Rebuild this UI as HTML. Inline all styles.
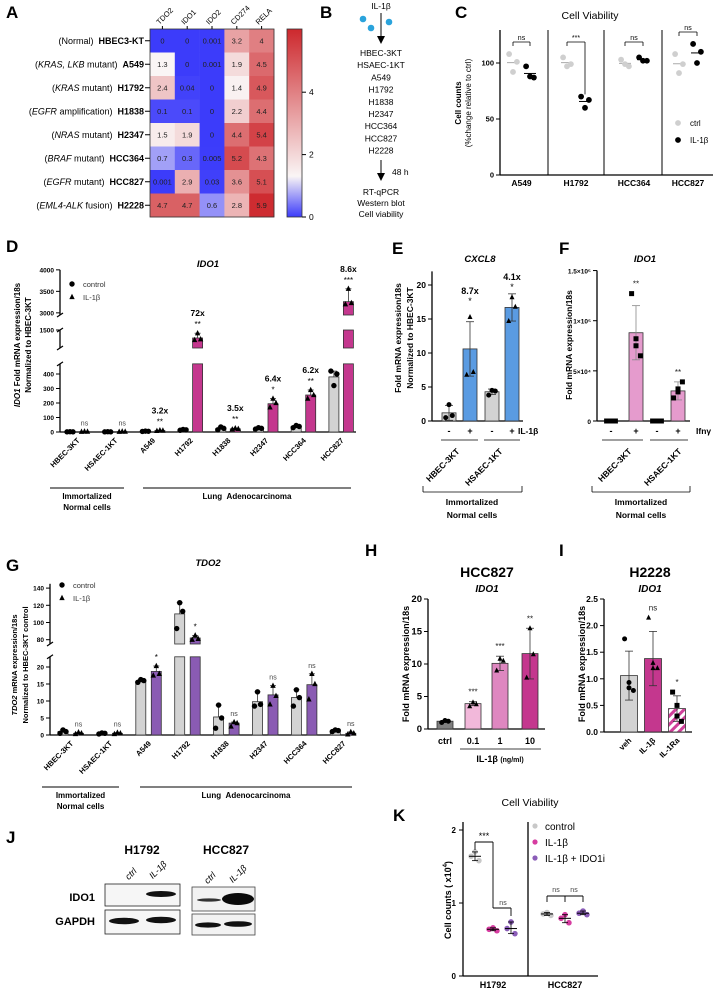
<!DOCTYPE html>
<html><head><meta charset="utf-8"><style>
html,body{margin:0;padding:0;background:#fff}
svg{display:block;font-family:"Liberation Sans",Arial,sans-serif}
</style></head><body>
<svg id="fig" width="713" height="991" viewBox="0 0 713 991" xmlns="http://www.w3.org/2000/svg">
<defs>
<linearGradient id="cbar" x1="0" y1="0" x2="0" y2="1">
<stop offset="0" stop-color="rgb(205,40,45)"/><stop offset="0.783" stop-color="rgb(250,245,245)"/><stop offset="1" stop-color="rgb(60,60,250)"/>
</linearGradient>
<pattern id="stripe" width="6" height="6" patternUnits="userSpaceOnUse" patternTransform="rotate(45)">
<rect width="6" height="6" fill="#fff"/><rect width="3" height="6" fill="#d0409a"/>
</pattern>
</defs>
</svg>
<script>
// ---------- data ----------
const heatRows=['HBEC3-KT','A549','H1792','H1838','H2347','HCC364','HCC827','H2228'];
const heatNotes=['(Normal)','(<tspan font-style="italic">KRAS, LKB</tspan> mutant)','(<tspan font-style="italic">KRAS</tspan> mutant)','(<tspan font-style="italic">EGFR</tspan> amplification)','(<tspan font-style="italic">NRAS</tspan> mutant)','(<tspan font-style="italic">BRAF</tspan> mutant)','(<tspan font-style="italic">EGFR</tspan> mutant)','(<tspan font-style="italic">EML4-ALK</tspan> fusion)'];
const heatCols=['TDO2','IDO1','IDO2','CD274','RELA'];
const heatVals=[[0,0,0.001,3.2,4],[1.3,0,0.001,1.9,4.5],[2.4,0.04,0,1.4,4.9],[0.1,0.1,0,2.2,4.4],[1.5,1.9,0,4.4,5.4],[0.7,0.3,0.005,5.2,4.3],[0.001,2.9,0.03,3.6,5.1],[4.7,4.7,0.6,2.8,5.9]];
const heatTicks=[0,2,4];
const bLines=['HBEC-3KT','HSAEC-1KT','A549','H1792','H1838','H2347','HCC364','HCC827','H2228'];
const cCats=['A549','H1792','HCC364','HCC827'];
const cCtrlPts=[[108,101,92],[105,99,97],[103,97,99],[108,99,91]];
const cILPts=[[97,87,88],[70,67,60],[105,102,102],[117,110,100]];
const cSig=['ns','***','ns','ns'];
const cTicks=[0,50,100];
const dCats=['HBEC-3KT','HSAEC-1KT','A549','H1792','H1838','H2347','HCC364','HCC827'];
const dCtrl=[1,1,5,15,25,25,38,380];
const dIL=[3,3,10,1300,22,195,255,3260];
const dILsd=[1,1,3,80,8,30,30,300];
const dCtrlPts=[[1,1,2],[1,1,2],[4,5,6],[12,15,18],[15,25,35],[20,25,30],[30,38,45],[420,400,320]];
const dILPts=[[2,3,4],[2,3,4],[8,10,12],[1250,1270,1420],[18,22,26],[170,200,230],[230,255,290],[3200,3230,3560]];
const dFold=['','','3.2x','72x','3.5x','6.4x','6.2x','8.6x'];
const dSig=['ns','ns','**','**','**','*','**','***'];
const dTicks=[0,100,200,300,400,1500,3000,3500,4000];
const gCtrl=[1,0.5,15.8,110,5.3,9.8,11,1.3];
const gIL=[0.5,0.5,18.7,82,3.5,11.8,14.8,0.5];
const gCtrlPts=[[0.5,1,1.5],[0.3,0.5,0.6],[15.5,16,16.3],[93,113,123],[2,5,8.8],[8.5,9,12.7],[8.5,11,13.3],[1,1.3,1.5]];
const gILPts=[[0.3,0.5,0.8],[0.3,0.5,0.7],[17.5,18,20.3],[80,81,85],[2.5,3.5,3.8],[9,11.5,14.5],[10.5,15,18],[0.2,0.5,0.9]];
const gSig=['ns','ns','*','*','ns','ns','ns','ns'];
const gTicks=[0,5,10,15,20,80,100,120,140];
const eVals=[1.2,10.6,4.3,16.7];
const eSd=[1.1,4,0.4,2];
const ePts=[[0.5,0.8,2.4],[6.8,7.2,15.3],[3.8,4.4,4.5],[14.7,16.8,18.2]];
const eTicks=[0,5,10,15,20];
const fVals=[0,88000,0,30000];
const fSd=[0,27000,0,9000];
const fPts=[[0,0,0,0],[127000,82000,75000,65000],[0,0,0,0],[23000,29000,32000,39000]];
const fTicks=[0,50000,100000,150000];
const fTickLabels=['0','5×10⁴','1×10⁵','1.5×10⁵'];
const hCats=['ctrl','0.1','1','10'];
const hVals=[1.2,3.9,10.1,11.6];
const hSd=[0.1,0.3,1.1,3.9];
const hPts=[[1.0,1.2,1.3],[3.5,3.8,4.1],[9,10.5,10.8],[7.9,11.5,15.5]];
const hSig=['','***','***','**'];
const hTicks=[0,5,10,15,20];
const iCats=['veh','IL-1β','IL-1Ra'];
const iVals=[1.06,1.38,0.44];
const iSd=[0.46,0.51,0.24];
const iPts=[[1.75,0.93,0.83,0.78],[2.15,1.3,1.2,1.2],[0.75,0.5,0.3,0.2]];
const iSig=['','ns','*'];
const iTicks=[0,0.5,1,1.5,2,2.5];
const kCats=['H1792','HCC827'];
const kCtrl=[[1.64,1.58,1.70],[0.85,0.83,0.87]];
const kIL=[[0.64,0.62,0.66],[0.79,0.73,0.84]];
const kIDO=[[0.65,0.58,0.74],[0.86,0.84,0.89]];
const kTicks=[0,1,2];

// ---------- helpers ----------
const NS='http://www.w3.org/2000/svg';
const svg=document.getElementById('fig');
function mk(tag,a,name,p){
  const n=document.createElementNS(NS,tag);
  for(const k in a)n.setAttribute(k,a[k]);
  
  
  (p||svg).appendChild(n);return n;}
function T(x,y,s,o,name){o=o||{};
  const a={x:x,y:y,'font-size':o.fs||8,'text-anchor':o.a||'middle','font-weight':o.b?'bold':'normal','font-style':o.i?'italic':'normal',fill:o.c||'#000'};
  if(o.r!==undefined)a.transform='rotate('+o.r+' '+x+' '+y+')';
  const t=mk('text',a,name);t.innerHTML=s;return t;}
function L(x1,y1,x2,y2,name,w,c){return mk('line',{x1:x1,y1:y1,x2:x2,y2:y2,stroke:c||'#000','stroke-width':w||1},name);}
function R(x,y,w,h,fill,name,st){return mk('rect',{x:x,y:y,width:w,height:Math.max(0,h),fill:fill,stroke:st||'none','stroke-width':0.8},name);}
function M(shape,x,y,s,fill,name){
  if(shape==='c')return mk('circle',{cx:x,cy:y,r:s,fill:fill},name);
  if(shape==='s')return R(x-s,y-s,2*s,2*s,fill,name);
  return mk('polygon',{points:(x)+','+(y-s*1.2)+' '+(x-s)+','+(y+s*0.8)+' '+(x+s)+','+(y+s*0.8),fill:fill},name);}
const off3=[-3,3,0],off4=[-4,0,0,4];

// ---------- panel letters ----------
[['A',6,18],['B',320,18],['C',455,18],['D',6,252],['E',392,254],['F',559,254],['G',6,571],['H',365,556],['I',559,556],['J',6,843],['K',393,821]].forEach(p=>{
  T(p[1],p[2],p[0],{fs:17,b:true,a:'start'},'panel-label-'+p[0].toLowerCase());});

// ---------- A heatmap ----------
const hx0=150,hy0=29,cw=24.8,rh=23.5;
function heatColor(v){const m=1.3,mx=6;let a,b,t;
  if(v<=m){t=v/m;a=[60,60,250];b=[250,245,245];}else{t=Math.min(1,(v-m)/(mx-m));a=[250,245,245];b=[205,40,45];}
  return 'rgb('+a.map((c,i)=>Math.round(c+(b[i]-c)*t)).join(',')+')';}
heatVals.forEach((row,r)=>row.forEach((v,c)=>{
  R(hx0+c*cw,hy0+r*rh,cw+0.3,rh+0.3,heatColor(v),'heatmap-cell-'+heatRows[r]+'-'+heatCols[c]);
  T(hx0+c*cw+cw/2,hy0+r*rh+rh/2+2.7,String(v),{fs:7.5,c:'#222'},'heatmap-value');}));
R(hx0,hy0,cw*5,rh*8,'none','heatmap-border','#333');
heatRows.forEach((n,r)=>{const y=hy0+r*rh+rh/2;L(145,y,150,y,'row-tick',1);
  T(144,y+3,heatNotes[r]+'<tspan font-weight="bold" dx="5">'+n+'</tspan>',{fs:9,a:'end'},'row-label-'+n);});
heatCols.forEach((n,c)=>{const x=hx0+c*cw+cw/2;L(x,hy0-3,x,hy0,'col-tick',1);
  T(x-3,hy0-4,n,{fs:7.5,a:'start',r:-45},'col-label-'+n);});
R(287,29,15,188,'url(#cbar)','colorbar','#333');
heatTicks.forEach(v=>{const y=217-v*31.2;L(302,y,306,y,'colorbar-tick',1);T(309,y+3,String(v),{fs:8.5,a:'start'},'colorbar-label');});

// ---------- B schematic ----------
T(381,9,'IL-1β',{fs:8.5},'il1b-label');
[[363,19],[371,28],[389,22]].forEach(p=>mk('circle',{cx:p[0],cy:p[1],r:3.3,fill:'#2aa3dc'},'il1b-dot'));
L(381,13,381,39,'arrow-1',1);mk('polygon',{points:'377,36 385,36 381,44'},'arrow-1-head');
bLines.forEach((s,i)=>T(381,56+i*12.2,s,{fs:8.5},'cell-line-'+s));
L(381,160,381,176,'arrow-2',1);mk('polygon',{points:'377,173 385,173 381,181'},'arrow-2-head');
T(392,175,'48 h',{fs:8.5,a:'start'},'time-label');
['RT-qPCR','Western blot','Cell viability'].forEach((s,i)=>T(381,195+i*11,s,{fs:8.5},'readout-'+i));

// ---------- C cell viability ----------
const cY=v=>175-v*1.12;
T(590,19,'Cell Viability',{fs:10.5},'c-title');
L(500,30,500,175,'c-y-axis',1.3);L(500,175,713,175,'c-x-axis',1.3);
cTicks.forEach(v=>{L(496,cY(v),500,cY(v),'c-y-tick',1);T(494,cY(v)+2.5,String(v),{fs:7.5,b:true,a:'end'},'c-y-tick-label');});
T(461,103,'Cell counts',{fs:8,b:true,r:-90},'c-y-title');T(471,103,'(%change relative to ctrl)',{fs:8,r:-90},'c-y-subtitle');
[548,604,662].forEach(x=>L(x,30,x,175,'c-divider',1));
const cCx=[513,567,625,679],cIx=[530,585,643,697];
cCats.forEach((n,g)=>{
  T((cCx[g]+cIx[g])/2,186,n,{fs:8.5,b:true},'c-x-label-'+n);
  const mc=cCtrlPts[g].reduce((a,b)=>a+b)/3, mi=cILPts[g].reduce((a,b)=>a+b)/3;
  L(cCx[g]-6,cY(mc),cCx[g]+6,cY(mc),'c-ctrl-mean',1,'#aaa');L(cIx[g]-6,cY(mi),cIx[g]+6,cY(mi),'c-il-mean',1,'#000');
  cCtrlPts[g].forEach((v,j)=>M('c',cCx[g]+off3[j]*1.3,cY(v),2.9,'#cfcfcf','c-ctrl-point'));
  cILPts[g].forEach((v,j)=>M('c',cIx[g]+off3[j]*1.3,cY(v),2.9,'#000','c-il-point'));
  const top=g===3?32:42;
  L(cCx[g],top,cIx[g],top,'c-sig-bracket',0.8);L(cCx[g],top,cCx[g],top+4,'c-sig-bracket',0.8);
  L(cIx[g],top,cIx[g],g===1?cY(72):top+4,'c-sig-bracket',0.8);
  T((cCx[g]+cIx[g])/2,top-2,cSig[g],{fs:7},'c-sig-label');});
M('c',678,123,2.9,'#cfcfcf','c-legend-ctrl-marker');T(690,126,'ctrl',{fs:8,a:'start'},'c-legend-ctrl');
M('c',678,140,2.9,'#000','c-legend-il-marker');T(690,143,'IL-1β',{fs:8,a:'start'},'c-legend-il');

// ---------- broken axis bar chart helper ----------
function brokenChart(o){
  const segs=o.segs;
  const yOf=v=>{for(const s of segs){if(v<=s.max&&v>=s.min)return s.y0-(v-s.min)*s.k;}
    for(let i=segs.length-1;i>=0;i--){if(v>segs[i].max)return segs[i].y0-(segs[i].max-segs[i].min)*segs[i].k;}return segs[0].y0;};
  segs.forEach(s=>{L(o.ax,s.y0,o.ax,s.y0-(s.max-s.min)*s.k,o.p+'-y-axis-segment',1.3);});
  for(let i=0;i<segs.length-1;i++){const yb=segs[i].y0-(segs[i].max-segs[i].min)*segs[i].k, yt=segs[i+1].y0;
    L(o.ax-3,yb+2,o.ax+3,yb-2,o.p+'-axis-break',1.2);L(o.ax-3,yt+2,o.ax+3,yt-2,o.p+'-axis-break',1.2);}
  L(o.ax,segs[0].y0,o.xend,segs[0].y0,o.p+'-x-axis',1.3);
  o.ticks.forEach(v=>{const y=yOf(v);L(o.ax-4,y,o.ax,y,o.p+'-y-tick',1);T(o.ax-6,y+2.5,String(v),{fs:6.5,b:true,a:'end'},o.p+'-y-tick-label');});
  function bar(x,v,fill,name){segs.forEach(s=>{if(v>s.min){const top=Math.min(v,s.max);
      R(x-5,s.y0-(top-s.min)*s.k,10,(top-s.min)*s.k,fill,name,'#333');}});}
  o.cats.forEach((n,g)=>{const xc=o.x0+g*o.dx, xi=xc+o.gap;
    bar(xc,o.ctrl[g],'#d3d3d3',o.p+'-bar-ctrl-'+n);bar(xi,o.il[g],o.ilColor,o.p+'-bar-il-'+n);
    const ec=Math.max(...o.ctrlPts[g]),ei=Math.max(...o.ilPts[g]);
    L(xc,yOf(o.ctrl[g]),xc,yOf(ec),o.p+'-errbar',0.8,'#333');L(xc-3,yOf(ec),xc+3,yOf(ec),o.p+'-errcap',0.8,'#333');
    L(xi,yOf(o.il[g]),xi,yOf(ei),o.p+'-errbar',0.8,'#333');L(xi-3,yOf(ei),xi+3,yOf(ei),o.p+'-errcap',0.8,'#333');
    o.ctrlPts[g].forEach((v,j)=>M('c',xc+off3[j],yOf(v),2.7,'#000',o.p+'-ctrl-point'));
    o.ilPts[g].forEach((v,j)=>M('t',xi+off3[j],yOf(v),2.7,'#000',o.p+'-il-point'));
    T(xc+o.gap/2+3,segs[0].y0+9,n,{fs:7.5,b:true,a:'end',r:-45},o.p+'-x-label-'+n);
    const sy=yOf(Math.max(ei,o.il[g]))-6;
    T(xi,sy,o.sig[g],{fs:o.sig[g]==='ns'?7:8,c:o.sig[g]==='ns'?'#444':'#000'},o.p+'-sig');
    if(o.fold&&o.fold[g])T(xi,sy-11,o.fold[g],{fs:8.5,b:true},o.p+'-fold-label');});
  L(o.grp[0],o.gy,o.grp[1],o.gy,o.p+'-group-line-normal',1);L(o.grp[2],o.gy,o.grp[3],o.gy,o.p+'-group-line-luad',1);
  T((o.grp[0]+o.grp[1])/2,o.gy+11,'Immortalized',{fs:8,b:true},o.p+'-group-normal');
  T((o.grp[0]+o.grp[1])/2,o.gy+22,'Normal cells',{fs:8,b:true},o.p+'-group-normal-2');
  T((o.grp[2]+o.grp[3])/2,o.gy+11,'Lung&#160;&#160;Adenocarcinoma',{fs:8,b:true},o.p+'-group-luad');
  M('c',o.ax+12,o.leg,2.7,'#000',o.p+'-legend-ctrl-marker');T(o.ax+23,o.leg+3,'control',{fs:7.5,c:'#333',a:'start'},o.p+'-legend-ctrl');
  M('t',o.ax+12,o.leg+13,2.7,'#000',o.p+'-legend-il-marker');T(o.ax+23,o.leg+16,'IL-1β',{fs:7.5,c:'#333',a:'start'},o.p+'-legend-il');
}

// ---------- D ----------
T(208,267,'IDO1',{fs:9.5,b:true,i:true},'d-title');
T(20,345,'<tspan font-style="italic">IDO1</tspan> Fold mRNA expression/18s',{fs:8,b:true,r:-90},'d-y-title');
T(31,345,'Normalized to HBEC-3KT',{fs:8,b:true,r:-90},'d-y-title-2');
brokenChart({p:'d',ax:60,xend:356,x0:70,dx:37.7,gap:14.5,cats:dCats,ctrl:dCtrl,il:dIL,ctrlPts:dCtrlPts,ilPts:dILPts,
  ilColor:'#c4378e',sig:dSig,fold:dFold,ticks:dTicks,grp:[50,124,143,351],gy:488,leg:284,
  segs:[{min:0,max:470,y0:432,k:0.145},{min:1050,max:1500,y0:348,k:0.04},{min:2950,max:4000,y0:315,k:0.043}]});

// ---------- G ----------
T(208,566,'TDO2',{fs:9.5,b:true,i:true},'g-title');
T(17,665,'<tspan font-style="italic">TDO2</tspan> mRNA expression/18s',{fs:7.5,b:true,r:-90},'g-y-title');
T(28,665,'Normalized to HBEC-3KT control',{fs:7.5,b:true,r:-90},'g-y-title-2');
brokenChart({p:'g',ax:50,xend:356,x0:63,dx:38.9,gap:15.5,cats:dCats,ctrl:gCtrl,il:gIL,ctrlPts:gCtrlPts,ilPts:gILPts,
  ilColor:'#8a5bb3',sig:gSig,fold:null,ticks:gTicks,grp:[42,119,140,352],gy:787,leg:585,
  segs:[{min:0,max:23,y0:735,k:3.4},{min:75,max:145,y0:644,k:0.86}]});

// ---------- simple bar helper ----------
function simpleBars(o){
  const y=v=>o.y0-(v-o.vmin)*o.k;
  L(o.ax,o.y0,o.ax,y(o.vmax),o.p+'-y-axis',1.3);L(o.ax,o.y0,o.xend,o.y0,o.p+'-x-axis',1.3);
  o.ticks.forEach((v,i)=>{L(o.ax-4,y(v),o.ax,y(v),o.p+'-y-tick',1);
    T(o.ax-6,y(v)+3,o.tl?o.tl[i]:String(v),{fs:o.tfs||8.5,b:true,a:'end'},o.p+'-y-tick-label');});
  o.vals.forEach((v,i)=>{const x=o.xs[i];
    R(x-o.w/2,y(v),o.w,o.y0-y(v),o.fills[i],o.p+'-bar-'+i,'#333');
    if(o.sd&&o.sd[i]){L(x,y(v-o.sd[i]),x,y(v+o.sd[i]),o.p+'-errbar',0.8,o.ec||'#333');
      L(x-4,y(v+o.sd[i]),x+4,y(v+o.sd[i]),o.p+'-errcap',0.8,o.ec||'#333');L(x-4,y(v-o.sd[i]),x+4,y(v-o.sd[i]),o.p+'-errcap',0.8,o.ec||'#333');}
    const off=o.pts[i].length===4?off4:off3;
    o.pts[i].forEach((pv,j)=>M(o.shapes[i],x+off[j]*1.1,y(pv),2.5,'#000',o.p+'-point'));
    if(o.sig&&o.sig[i])T(x,y(Math.max(v+(o.sd?o.sd[i]:0),...o.pts[i]))-7,o.sig[i],{fs:8,c:'#222'},o.p+'-sig');});
  return y;}

// ---------- E ----------
T(480,262,'CXCL8',{fs:9.5,b:true,i:true},'e-title');
T(401,338,'Fold mRNA expression/18s',{fs:8.5,b:true,r:-90},'e-y-title');
T(413,338,'Normalized to HBEC-3KT',{fs:8.5,b:true,r:-90},'e-y-title-2');
const eX=[449,470,492,512];
simpleBars({p:'e',ax:432,xend:523,y0:421,vmin:0,vmax:22,k:6.8,ticks:eTicks,vals:eVals,sd:eSd,pts:ePts,xs:eX,w:14,
  fills:['#d3d3d3','#5a9be2','#d3d3d3','#5a9be2'],shapes:['c','t','c','t']});
T(470,294,'8.7x',{fs:9,b:true},'e-fold-1');T(470,304,'*',{fs:9},'e-sig-1');
T(512,280,'4.1x',{fs:9,b:true},'e-fold-2');T(512,290,'*',{fs:9},'e-sig-2');
['-','+','-','+'].forEach((s,i)=>T(eX[i],434,s,{fs:9,b:true},'e-treatment-sign'));
T(518,434,'IL-1β',{fs:8.5,b:true,a:'start'},'e-il1b-label');
L(441,440,478,440,'e-pair-line',0.8);L(484,440,520,440,'e-pair-line',0.8);
T(460,452,'HBEC-3KT',{fs:8.5,b:true,a:'end',r:-45},'e-x-label-hbec');T(503,452,'HSAEC-1KT',{fs:8.5,b:true,a:'end',r:-45},'e-x-label-hsaec');
L(423,492,522,492,'e-bracket',0.8);L(423,486,423,492,'e-bracket-l',0.8);L(522,486,522,492,'e-bracket-r',0.8);
T(472,505,'Immortalized',{fs:8.5,b:true},'e-group');T(472,518,'Normal cells',{fs:8.5,b:true},'e-group-2');

// ---------- F ----------
T(645,262,'IDO1',{fs:9.5,b:true,i:true},'f-title');
T(572,345,'Fold mRNA expression/18s',{fs:8.5,b:true,r:-90},'f-y-title');
const fX=[611,636,657,678];
simpleBars({p:'f',ax:597,xend:690,y0:421,vmin:0,vmax:150000,k:0.001003,ticks:fTicks,tl:fTickLabels,tfs:6.5,vals:fVals,sd:fSd,pts:fPts,xs:fX,w:14,
  fills:['#e59bcd','#e59bcd','#e59bcd','#e59bcd'],shapes:['s','s','s','s'],sig:['','**','','**'],ec:'#888'});
['-','+','-','+'].forEach((s,i)=>T(fX[i],434,s,{fs:9,b:true},'f-treatment-sign'));
T(696,434,'Ifnγ',{fs:8.5,b:true,a:'start'},'f-ifng-label');
L(602,440,643,440,'f-pair-line',0.8);L(650,440,688,440,'f-pair-line',0.8);
T(632,452,'HBEC-3KT',{fs:8.5,b:true,a:'end',r:-45},'f-x-label-hbec');T(682,452,'HSAEC-1KT',{fs:8.5,b:true,a:'end',r:-45},'f-x-label-hsaec');
L(592,492,690,492,'f-bracket',0.8);L(592,486,592,492,'f-bracket-l',0.8);L(690,486,690,492,'f-bracket-r',0.8);
T(641,505,'Immortalized',{fs:8.5,b:true},'f-group');T(641,518,'Normal cells',{fs:8.5,b:true},'f-group-2');

// ---------- H ----------
T(487,577,'HCC827',{fs:14,b:true},'h-title');T(487,592,'IDO1',{fs:10,b:true,i:true},'h-subtitle');
T(409,664,'Fold mRNA expression/18s',{fs:9,b:true,r:-90},'h-y-title');
const hX=[445,473,500,530];
simpleBars({p:'h',ax:428,xend:545,y0:729,vmin:0,vmax:20,k:6.5,ticks:hTicks,vals:hVals,sd:hSd,pts:hPts,xs:hX,w:16,tfs:9.5,
  fills:['#7f7f7f','#f2b8da','#de87c0','#c4378e'],shapes:['c','t','t','t'],sig:hSig});
hCats.forEach((s,i)=>T(hX[i],744,s,{fs:9,b:true},'h-x-label-'+s));
L(460,749,541,749,'h-dose-line',0.8);
T(500,762,'IL-1β <tspan font-size="7">(ng/ml)</tspan>',{fs:9,b:true},'h-dose-label');

// ---------- I ----------
T(650,577,'H2228',{fs:14,b:true},'i-title');T(650,592,'IDO1',{fs:10,b:true,i:true},'i-subtitle');
T(585,664,'Fold mRNA expression/18s',{fs:9,b:true,r:-90},'i-y-title');
const iX=[629,653,677];
simpleBars({p:'i',ax:604,xend:692,y0:732,vmin:0,vmax:2.5,k:53.2,ticks:iTicks,tl:['0.0','0.5','1.0','1.5','2.0','2.5'],tfs:8.5,vals:iVals,sd:iSd,pts:iPts,xs:iX,w:17,
  fills:['#d3d3d3','#c4378e','url(#stripe)'],shapes:['c','t','s'],sig:iSig});
iCats.forEach((s,i)=>T(iX[i]+3,741,s,{fs:8,b:true,a:'end',r:-45},'i-x-label-'+s));

// ---------- J western blot ----------
T(142,854,'H1792',{fs:12,b:true},'j-title-h1792');T(226,854,'HCC827',{fs:12,b:true},'j-title-hcc827');
[[133,876,'ctrl'],[160,872,'IL-1β'],[212,880,'ctrl'],[240,876,'IL-1β']].forEach(p=>T(p[0],p[1],p[2],{fs:9,i:true,a:'middle',r:-45},'j-lane-'+p[2]));
T(95,901,'IDO1',{fs:11,b:true,a:'end'},'j-ido1-label');T(95,925,'GAPDH',{fs:11,b:true,a:'end'},'j-gapdh-label');
R(105,884,75,22,'#f6f6f6','j-blot-h1792-ido1','#222');R(105,910,75,24,'#f6f6f6','j-blot-h1792-gapdh','#222');
R(192,887,63,24,'#f2f2f2','j-blot-hcc827-ido1','#444');R(192,914,63,21,'#f2f2f2','j-blot-hcc827-gapdh','#444');
mk('ellipse',{cx:161,cy:894,rx:15,ry:3,fill:'#111'},'j-band-h1792-ido1-il');
mk('ellipse',{cx:124,cy:921,rx:15,ry:3.2,fill:'#111'},'j-band-h1792-gapdh-ctrl');
mk('ellipse',{cx:161,cy:920,rx:15,ry:3.2,fill:'#111'},'j-band-h1792-gapdh-il');
mk('ellipse',{cx:209,cy:900,rx:12,ry:1.6,fill:'#333'},'j-band-hcc827-ido1-ctrl');
mk('ellipse',{cx:238,cy:899,rx:16,ry:6,fill:'#0a0a0a'},'j-band-hcc827-ido1-il');
mk('ellipse',{cx:208,cy:925,rx:13,ry:2.6,fill:'#111'},'j-band-hcc827-gapdh-ctrl');
mk('ellipse',{cx:238,cy:924,rx:14,ry:2.8,fill:'#111'},'j-band-hcc827-gapdh-il');

// ---------- K ----------
const kY=v=>976-v*73;
T(530,806,'Cell Viability',{fs:10.5},'k-title');
T(451,900,'Cell counts ( x10<tspan font-size="6" dy="-4">4</tspan><tspan dy="4">)</tspan>',{fs:9,b:true,r:-90},'k-y-title');
L(463,822,463,976,'k-y-axis',1.3);L(463,976,598,976,'k-x-axis',1.3);L(528,822,528,976,'k-divider',1.3);
kTicks.forEach(v=>{L(459,kY(v),463,kY(v),'k-y-tick',1);T(456,kY(v)+3,String(v),{fs:8,b:true,a:'end'},'k-y-tick-label');});
const kXs=[[475,493,511],[547,565,583]];
const kCols=['#c8c8c8','#d63ca0','#8b5db8'];
kCats.forEach((n,g)=>{T(kXs[g][1],988,n,{fs:9,b:true},'k-x-label-'+n);
  [kCtrl[g],kIL[g],kIDO[g]].forEach((pts,s)=>{const x=kXs[g][s];
    pts.forEach((v,j)=>M('c',x+off3[j]*1.3,kY(v),2.8,kCols[s],'k-point'));
    const m=pts[0],lo=Math.min(...pts),hi=Math.max(...pts);
    L(x-6,kY(m),x+6,kY(m),'k-mean',1);L(x,kY(lo),x,kY(hi),'k-errbar',0.8);
    L(x-3,kY(lo),x+3,kY(lo),'k-errcap',0.8);L(x-3,kY(hi),x+3,kY(hi),'k-errcap',0.8);});});
L(475,842,493,842,'k-bracket',0.9);L(475,842,475,850,'k-bracket',0.9);L(493,842,493,908,'k-bracket',0.9);
T(484,839,'***',{fs:9},'k-sig-h1792');
L(493,908,511,908,'k-bracket',0.9);L(511,908,511,916,'k-bracket',0.9);T(503,905,'ns',{fs:7,c:'#444'},'k-sig-h1792-ns');
L(547,896,583,896,'k-bracket',0.9);[547,565,583].forEach(x=>L(x,896,x,902,'k-bracket',0.9));
T(556,892,'ns',{fs:7,c:'#444'},'k-sig-hcc827-1');T(574,892,'ns',{fs:7,c:'#444'},'k-sig-hcc827-2');
['control','IL-1β','IL-1β + IDO1i'].forEach((s,i)=>{M('c',535,826+i*16,2.6,kCols[i],'k-legend-marker');
  T(545,830+i*16,s,{fs:10,a:'start'},'k-legend-'+i);});
</script>
</body></html>
